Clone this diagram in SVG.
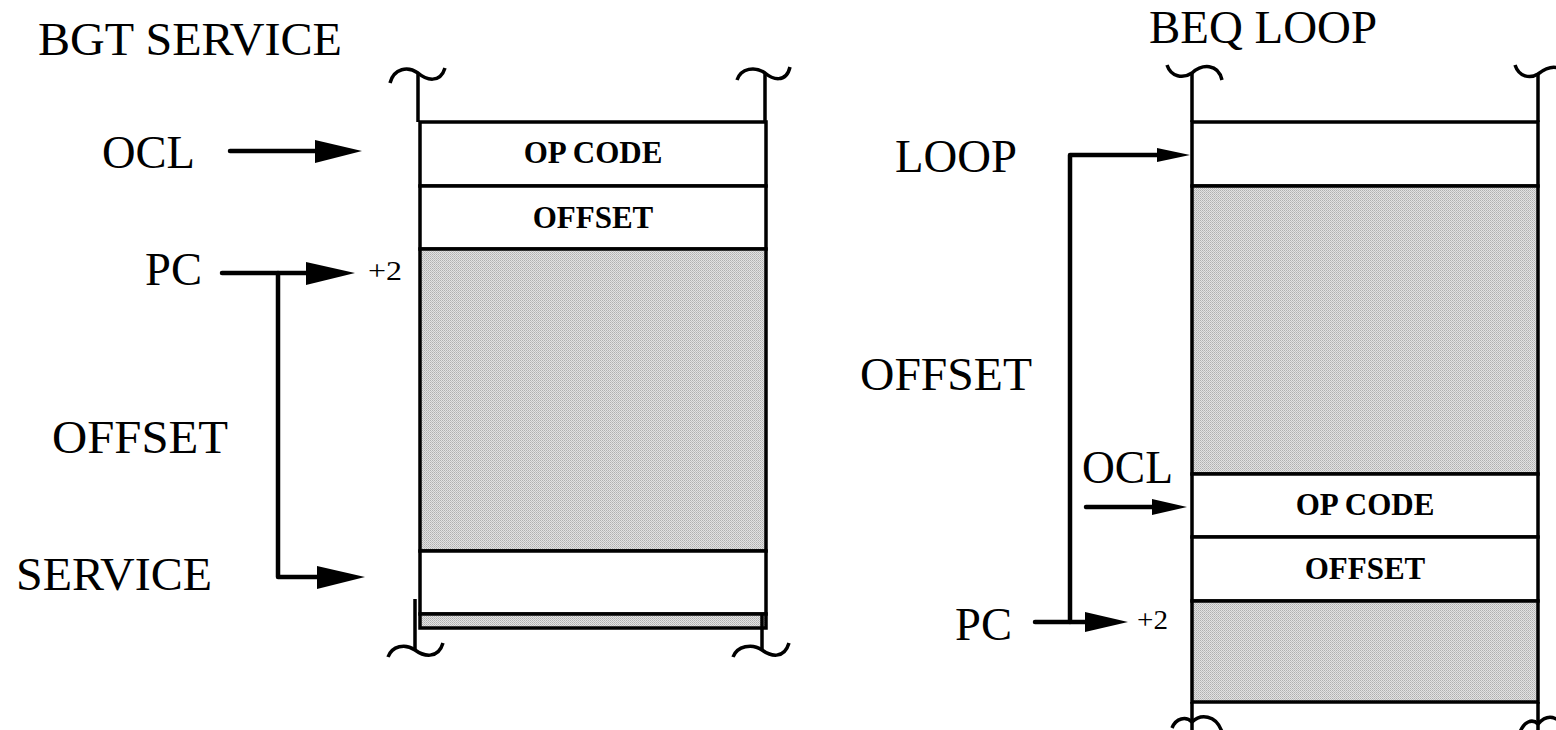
<svg xmlns="http://www.w3.org/2000/svg" width="1556" height="730" viewBox="0 0 1556 730">
<style>
.lbl{font-family:"Liberation Serif","Times New Roman",serif;font-size:46px;fill:#000}
.small{font-family:"Liberation Serif","Times New Roman",serif;font-size:28px;fill:#000}
.cell{font-family:"Liberation Serif","Times New Roman",serif;font-size:31px;font-weight:bold;fill:#000;text-anchor:middle}
.box{fill:#fff;stroke:#000;stroke-width:3.5}
.gray{fill:url(#dots);stroke:#000;stroke-width:3.5}
.edge{fill:none;stroke:#000;stroke-width:3.5}
.wire{fill:none;stroke:#000;stroke-width:4.5;stroke-linecap:round;stroke-linejoin:round}
.head{fill:#000;stroke:none}
</style>
<defs>
<pattern id="dots" width="2" height="2" patternUnits="userSpaceOnUse">
<rect width="2" height="2" fill="#e2e2e2"/>
<rect width="1" height="1" fill="#b0b0b0"/>
<rect x="1" y="1" width="1" height="1" fill="#c0c0c0"/>
</pattern>
</defs>
<rect width="1556" height="730" fill="#fff"/>

<text class="lbl" x="38" y="55" textLength="304" lengthAdjust="spacingAndGlyphs">BGT SERVICE</text>
<text class="lbl" x="1149" y="43" textLength="228" lengthAdjust="spacingAndGlyphs">BEQ LOOP</text>

<g id="left-stack">
<path class="edge" d="M418,73 V122 M765,73 V122"/>
<path class="edge" d="M390,83 C394,68 408,66 418,73 C426,80 440,84 445,68"/>
<path class="edge" d="M737,80 C741,68 755,66 765,73 C772,79 786,84 790,67"/>
<rect class="box" x="420" y="122" width="346" height="64"/>
<text class="cell" x="593" y="163">OP CODE</text>
<rect class="box" x="420" y="186" width="346" height="63"/>
<text class="cell" x="593" y="228">OFFSET</text>
<rect class="gray" x="420" y="249" width="346" height="302"/>
<rect class="box" x="420" y="551" width="346" height="63"/>
<rect class="gray" x="420" y="614" width="346" height="14" stroke-width="2.5"/>
<path class="edge" d="M415,599 V650 M762,614 V650"/>
<path class="edge" d="M388,657 C392,646 405,643 415,650 C423,656 438,660 443,643"/>
<path class="edge" d="M733,657 C737,646 752,643 762,650 C770,656 784,660 789,643"/>
</g>

<g id="right-stack">
<path class="edge" d="M1192,73 V122 M1538,73 V122"/>
<path class="edge" d="M1167,65 C1171,77 1183,79 1192,73 C1202,64 1218,63 1222,80"/>
<path class="edge" d="M1515,65 C1519,77 1530,79 1538,74 C1546,68 1552,66 1558,68"/>
<rect class="box" x="1192" y="122" width="346" height="64"/>
<rect class="gray" x="1192" y="186" width="346" height="288"/>
<rect class="box" x="1192" y="474" width="346" height="63"/>
<text class="cell" x="1365" y="515">OP CODE</text>
<rect class="box" x="1192" y="537" width="346" height="64"/>
<text class="cell" x="1365" y="579">OFFSET</text>
<rect class="gray" x="1192" y="601" width="346" height="101"/>
<path class="edge" d="M1192,702 V730 M1538,702 V730"/>
<path class="edge" d="M1172,728 C1176,718 1186,716 1192,722 C1200,714 1216,714 1222,732"/>
<path class="edge" d="M1520,732 C1524,722 1532,718 1538,724 C1545,716 1552,716 1558,720"/>
</g>

<g id="labels-left">
<text class="lbl" x="102" y="168" textLength="93" lengthAdjust="spacingAndGlyphs">OCL</text>
<text class="lbl" x="145" y="285" textLength="57" lengthAdjust="spacingAndGlyphs">PC</text>
<text class="small" x="368" y="280" textLength="34" lengthAdjust="spacingAndGlyphs">+2</text>
<text class="lbl" x="52" y="453" textLength="176" lengthAdjust="spacingAndGlyphs">OFFSET</text>
<text class="lbl" x="16" y="590" textLength="196" lengthAdjust="spacingAndGlyphs">SERVICE</text>
</g>

<g id="labels-right">
<text class="lbl" x="895" y="172" textLength="122" lengthAdjust="spacingAndGlyphs">LOOP</text>
<text class="lbl" x="860" y="390" textLength="172" lengthAdjust="spacingAndGlyphs">OFFSET</text>
<text class="lbl" x="1082" y="483" textLength="91" lengthAdjust="spacingAndGlyphs">OCL</text>
<text class="lbl" x="955" y="640" textLength="57" lengthAdjust="spacingAndGlyphs">PC</text>
<text class="small" x="1137" y="629" textLength="31" lengthAdjust="spacingAndGlyphs">+2</text>
</g>

<g id="connectors">
<path class="wire" d="M230,151 H330"/>
<polygon class="head" points="315,140 362,151 315,163"/>
<path class="wire" d="M222,273 H320"/>
<polygon class="head" points="306,262 355,273 306,285"/>
<path class="wire" d="M278,273 V577 H330"/>
<polygon class="head" points="317,566 365,577 317,589"/>
<path class="wire" d="M1086,507 H1160"/>
<polygon class="head" points="1152,499 1187,507 1152,515"/>
<path class="wire" d="M1070,622 V155 H1165"/>
<polygon class="head" points="1157,148 1190,155 1157,162"/>
<path class="wire" d="M1035,622 H1095"/>
<polygon class="head" points="1085,612 1128,622 1085,632"/>
</g>
</svg>
